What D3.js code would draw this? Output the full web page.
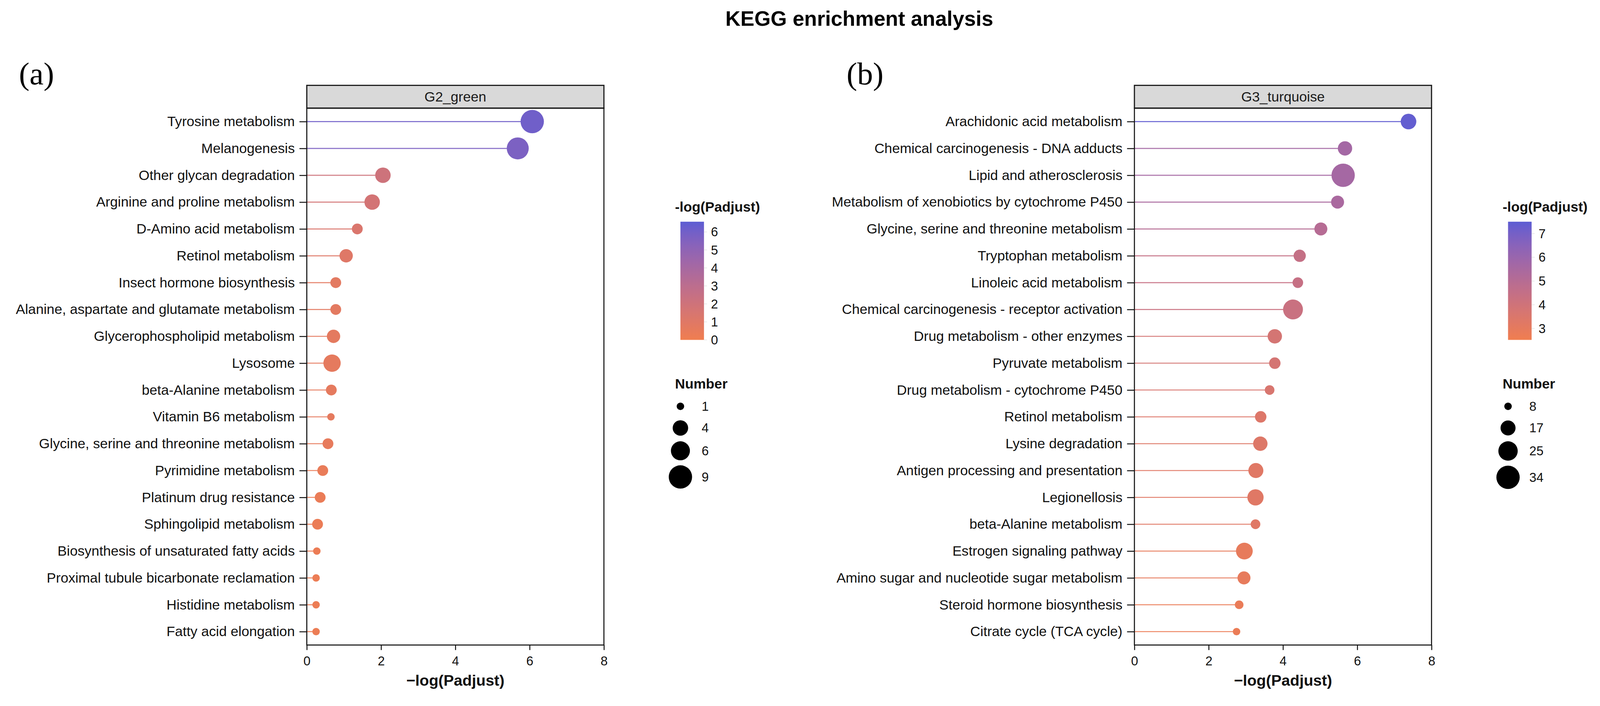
<!DOCTYPE html>
<html>
<head>
<meta charset="utf-8">
<script src="https://cdn.jsdelivr.net/npm/d3@7"></script>
<style>
html, body { margin: 0; padding: 0; background: #fff; overflow: hidden; }
svg { display: block; width: 100vw; height: 100vh; font-family: "Liberation Sans", Arial, sans-serif; }
</style>
</head>
<body>
<svg id="chart" viewBox="0 0 4141 1808" preserveAspectRatio="xMidYMin meet"></svg>
<script>
// panel (a) - G2_green
var termsA = ["Tyrosine metabolism", "Melanogenesis", "Other glycan degradation", "Arginine and proline metabolism",
	"D-Amino acid metabolism", "Retinol metabolism", "Insect hormone biosynthesis",
	"Alanine, aspartate and glutamate metabolism", "Glycerophospholipid metabolism", "Lysosome",
	"beta-Alanine metabolism", "Vitamin B6 metabolism", "Glycine, serine and threonine metabolism",
	"Pyrimidine metabolism", "Platinum drug resistance", "Sphingolipid metabolism",
	"Biosynthesis of unsaturated fatty acids", "Proximal tubule bicarbonate reclamation",
	"Histidine metabolism", "Fatty acid elongation"];
var valuesA = [6.07, 5.68, 2.05, 1.76, 1.36, 1.06, 0.78, 0.78, 0.72, 0.68, 0.66, 0.65, 0.57, 0.43, 0.36, 0.29, 0.27, 0.25, 0.25, 0.25];
var countsA = [9, 8, 4, 4, 2, 3, 2, 2, 3, 5, 2, 1, 2, 2, 2, 2, 1, 1, 1, 1];

// panel (b) - G3_turquoise
var termsB = ["Arachidonic acid metabolism", "Chemical carcinogenesis - DNA adducts", "Lipid and atherosclerosis",
	"Metabolism of xenobiotics by cytochrome P450", "Glycine, serine and threonine metabolism",
	"Tryptophan metabolism", "Linoleic acid metabolism", "Chemical carcinogenesis - receptor activation",
	"Drug metabolism - other enzymes", "Pyruvate metabolism", "Drug metabolism - cytochrome P450",
	"Retinol metabolism", "Lysine degradation", "Antigen processing and presentation", "Legionellosis",
	"beta-Alanine metabolism", "Estrogen signaling pathway", "Amino sugar and nucleotide sugar metabolism",
	"Steroid hormone biosynthesis", "Citrate cycle (TCA cycle)"];
var valuesB = [7.38, 5.67, 5.62, 5.47, 5.02, 4.45, 4.40, 4.27, 3.78, 3.78, 3.64, 3.40, 3.39, 3.27, 3.26, 3.26, 2.96, 2.95, 2.82, 2.75];
var countsB = [18, 16, 34, 14, 14, 13, 11, 26, 16, 12, 10, 12, 16, 17, 19, 10, 20, 14, 9, 8];

var xTicks = [0, 2, 4, 6, 8];
var colorLimitsA = [0, 6.57];
var colorLimitsB = [2.52, 7.5];
var colorTicksA = [0, 1, 2, 3, 4, 5, 6];
var colorTicksB = [3, 4, 5, 6, 7];
var sizeBreaksA = [1, 4, 6, 9];
var sizeBreaksB = [8, 17, 25, 34];

var lowColor = "#F07E4F",
	highColor = "#5C5DD3";

class LollipopPanel{
	constructor(svg, left, id){
		this.svg = svg;
		this.left = left;
		this.id = id;
	}

	draw(letter, stripText, terms, values, counts, colorLimits, colorTicks, sizeBreaks){
		var svg = this.svg,
			plotLeft = this.left,
			plotWidth = 769,
			stripTop = 221,
			plotTop = 280,
			plotBottom = 1670;

		var rows = terms.map(function(t, i){ return {term: t, value: values[i], count: counts[i]}; });

		var x = d3.scaleLinear().domain([0, 8]).range([plotLeft, plotLeft + plotWidth]);
		var y = d3.scalePoint().domain(terms).range([plotTop, plotBottom]).padding(0.5);
		var color = d3.scaleLinear().domain(colorLimits).range([lowColor, highColor])
			.interpolate(d3.interpolateLab).clamp(true);
		// point area grows linearly with the gene number
		var area = d3.scaleLinear().domain(d3.extent(counts)).range([9.7 * 9.7, 30.2 * 30.2]);
		var radius = function(n){ return Math.sqrt(area(n)); };

		var g = svg.append("g").attr("class", "panel-" + this.id);

		// panel letter
		g.append("text")
			.attr("x", plotLeft - 745)
			.attr("y", 218)
			.style("font", "82px 'Liberation Serif', 'Times New Roman', serif")
			.text(letter);

		// strip
		g.append("rect")
			.attr("x", plotLeft).attr("y", stripTop)
			.attr("width", plotWidth).attr("height", plotTop - stripTop)
			.attr("fill", "#D9D9D9").attr("stroke", "#1a1a1a").attr("stroke-width", 3);
		g.append("text")
			.attr("x", plotLeft + plotWidth / 2).attr("y", (stripTop + plotTop) / 2)
			.attr("dy", "0.35em").attr("text-anchor", "middle")
			.style("font-size", "36px").attr("fill", "#1a1a1a")
			.text(stripText);

		// y axis
		var yAxis = g.append("g")
			.attr("transform", "translate(" + plotLeft + ",0)")
			.call(d3.axisLeft(y).tickSize(19).tickPadding(12).tickSizeOuter(0));
		yAxis.select(".domain").remove();
		yAxis.selectAll(".tick line").attr("stroke", "#111").attr("stroke-width", 2.5);
		yAxis.selectAll(".tick text").style("font-size", "36px").attr("fill", "#111");

		// x axis
		var xAxis = g.append("g")
			.attr("transform", "translate(0," + plotBottom + ")")
			.call(d3.axisBottom(x).tickValues(xTicks).tickSize(13).tickPadding(16).tickSizeOuter(0));
		xAxis.select(".domain").remove();
		xAxis.selectAll(".tick line").attr("stroke", "#111").attr("stroke-width", 2.5);
		xAxis.selectAll(".tick text").style("font-size", "33px").attr("fill", "#111");

		g.append("text")
			.attr("x", plotLeft + plotWidth / 2).attr("y", 1775)
			.attr("text-anchor", "middle")
			.style("font-size", "40px").style("font-weight", "bold").attr("fill", "#111")
			.text("\u2212log(Padjust)");

		// lollipops
		var item = g.selectAll(".item")
			.data(rows)
			.enter().append("g")
			.attr("class", "item");

		item.append("line")
			.attr("x1", x(0))
			.attr("x2", function(d){ return x(d.value); })
			.attr("y1", function(d){ return y(d.term); })
			.attr("y2", function(d){ return y(d.term); })
			.attr("stroke", function(d){ return color(d.value); })
			.attr("stroke-width", 2.7)
			.attr("stroke-opacity", 0.9);

		item.append("circle")
			.attr("cx", function(d){ return x(d.value); })
			.attr("cy", function(d){ return y(d.term); })
			.attr("r", function(d){ return radius(d.count); })
			.attr("fill", function(d){ return color(d.value); });

		// panel border
		g.append("rect")
			.attr("x", plotLeft).attr("y", plotTop)
			.attr("width", plotWidth).attr("height", plotBottom - plotTop)
			.attr("fill", "none").attr("stroke", "#111").attr("stroke-width", 2.7);

		// colour bar legend
		var barLeft = plotLeft + 967,
			barWidth = 61,
			barTop = 574,
			barBottom = 880;
		var cb = d3.scaleLinear().domain(colorLimits).range([barBottom, barTop]);

		g.append("text")
			.attr("x", barLeft - 14).attr("y", 548)
			.style("font-size", "36px").style("font-weight", "bold").attr("fill", "#111")
			.text("-log(Padjust)");

		var grad = svg.append("defs").append("linearGradient")
			.attr("id", "grad-" + this.id)
			.attr("x1", 0).attr("y1", 1).attr("x2", 0).attr("y2", 0);
		d3.range(0, 1.0001, 0.05).forEach(function(t){
			grad.append("stop")
				.attr("offset", t)
				.attr("stop-color", color(colorLimits[0] + t * (colorLimits[1] - colorLimits[0])));
		});

		g.append("rect")
			.attr("x", barLeft).attr("y", barTop)
			.attr("width", barWidth).attr("height", barBottom - barTop)
			.attr("fill", "url(#grad-" + this.id + ")");

		g.selectAll(".cb-tick")
			.data(colorTicks)
			.enter().append("line")
			.attr("class", "cb-tick")
			.attr("x1", barLeft + barWidth).attr("x2", barLeft + barWidth + 8)
			.attr("y1", function(d){ return cb(d); })
			.attr("y2", function(d){ return cb(d); })
			.attr("stroke", "#e4e4e4").attr("stroke-width", 1.5);

		g.selectAll(".cb-label")
			.data(colorTicks)
			.enter().append("text")
			.attr("class", "cb-label")
			.attr("x", barLeft + barWidth + 18)
			.attr("y", function(d){ return cb(d); })
			.attr("dy", "0.35em")
			.style("font-size", "33px").attr("fill", "#111")
			.text(function(d){ return d; });

		// size legend
		g.append("text")
			.attr("x", barLeft - 14).attr("y", 1006)
			.style("font-size", "36px").style("font-weight", "bold").attr("fill", "#111")
			.text("Number");

		var keyY = 1024;
		var keys = sizeBreaks.map(function(n){
			var r = radius(n),
				h = Math.max(56, 2 * r + 13),
				k = {n: n, r: r, cy: keyY + h / 2};
			keyY += h;
			return k;
		});

		g.selectAll(".size-key")
			.data(keys)
			.enter().append("circle")
			.attr("class", "size-key")
			.attr("cx", barLeft)
			.attr("cy", function(d){ return d.cy; })
			.attr("r", function(d){ return d.r; })
			.attr("fill", "#000");

		g.selectAll(".size-label")
			.data(keys)
			.enter().append("text")
			.attr("class", "size-label")
			.attr("x", barLeft + 55)
			.attr("y", function(d){ return d.cy; })
			.attr("dy", "0.35em")
			.style("font-size", "33px").attr("fill", "#111")
			.text(function(d){ return d.n; });
	}
}

var svg = d3.select("#chart");

svg.append("text")
	.attr("x", 2224).attr("y", 67)
	.attr("text-anchor", "middle")
	.style("font-size", "54px").style("font-weight", "bold").attr("fill", "#000")
	.text("KEGG enrichment analysis");

new LollipopPanel(svg, 794, "a")
	.draw("(a)", "G2_green", termsA, valuesA, countsA, colorLimitsA, colorTicksA, sizeBreaksA);
new LollipopPanel(svg, 2936, "b")
	.draw("(b)", "G3_turquoise", termsB, valuesB, countsB, colorLimitsB, colorTicksB, sizeBreaksB);
</script>
</body>
</html>
